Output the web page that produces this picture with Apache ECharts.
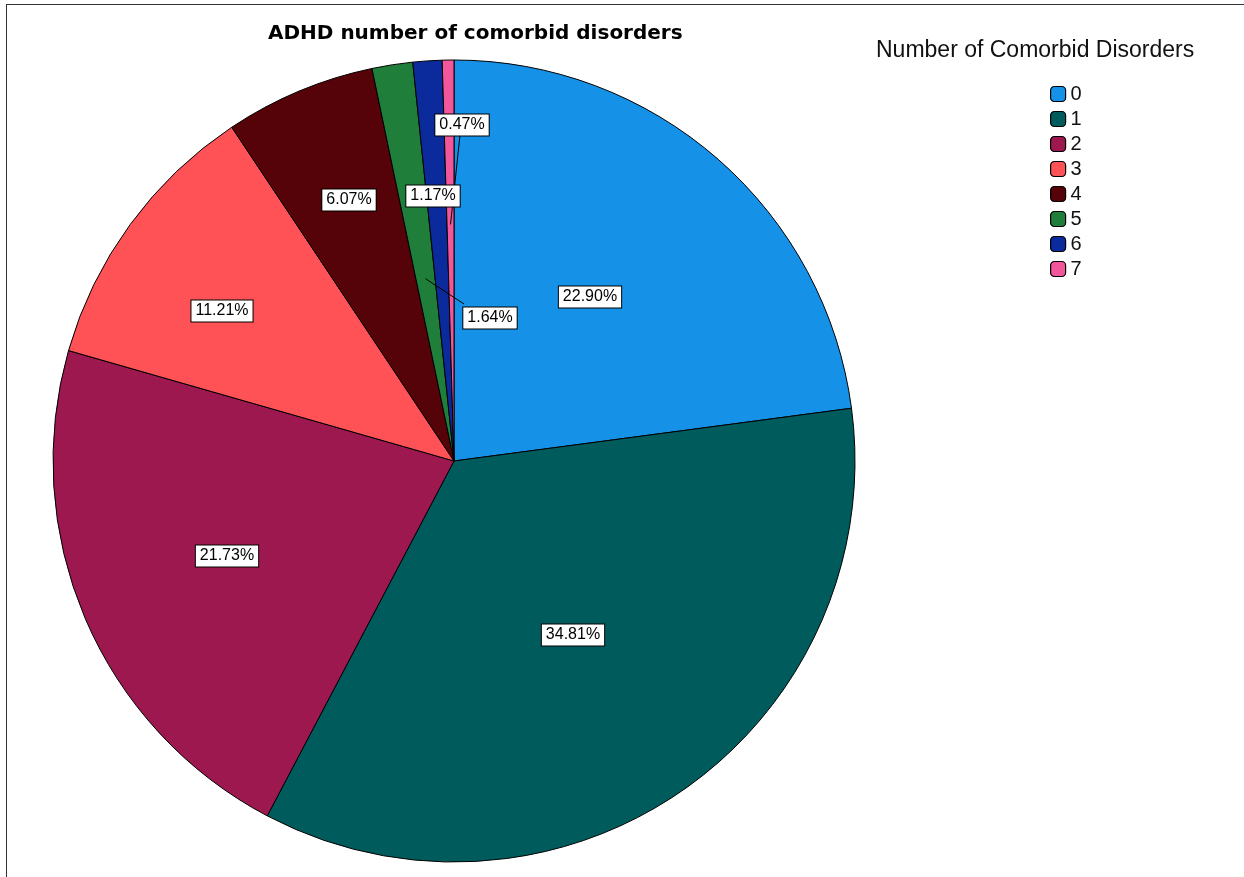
<!DOCTYPE html>
<html>
<head>
<meta charset="utf-8">
<script src="https://cdn.jsdelivr.net/npm/echarts@6/dist/echarts.min.js"></script>
<style>
  html, body { margin: 0; padding: 0; background: #fff; }
  .frame {
    position: absolute; left: 6px; top: 4px; width: 1238px; height: 873px;
    border-top: 1.5px solid #333; border-left: 1.5px solid #333;
  }
  #chart { position: absolute; left: 0; top: 0; width: 1244px; height: 877px; }
</style>
</head>
<body>
<div class="frame"></div>
<div id="chart"></div>
<script>
// 数据
const categories = ['0', '1', '2', '3', '4', '5', '6', '7']
const percents = [22.90, 34.81, 21.73, 11.21, 6.07, 1.64, 1.17, 0.47]
const colors = ['#1591e8', '#005c5c', '#9e1850', '#ff5257', '#560209', '#1e7e3a', '#0b2b9c', '#f2579b']

// 标签位置 (label centres)
const labelPos = [
  [590, 297], [573, 635], [227, 556], [222, 311],
  [349, 200], [490, 318], [433, 196], [462, 125]
]
// 引导线: [radius fraction of anchor in slice, label-end offset from label centre]
const leader = { 5: [0.46, [-26, -14]], 7: [0.59, [-2, 10]] }

const center = [454, 461]
const radius = 401
const font = '"Liberation Sans", Arial, sans-serif'

// 扇区中间角度 (clockwise from top)
const midAngle = i => {
  const before = percents.slice(0, i).reduce((a, b) => a + b, 0)
  return (before + percents[i] / 2) / 100 * 2 * Math.PI
}

const leaderLines = Object.keys(leader).map(k => {
  const i = +k
  const a = midAngle(i)
  const d = leader[i][0] * radius
  return {
    type: 'polyline',
    z: 2,
    z2: 3,
    silent: true,
    shape: {
      points: [
        [labelPos[i][0] + leader[i][1][0], labelPos[i][1] + leader[i][1][1]],
        [center[0] + d * Math.sin(a), center[1] - d * Math.cos(a)]
      ]
    },
    style: { stroke: '#000', lineWidth: 1, fill: null }
  }
})

const chart = echarts.init(document.getElementById('chart'))
chart.setOption({
  animation: false,
  title: [{
    text: 'ADHD number of comorbid disorders',
    left: 263,
    top: 19,
    textStyle: { fontFamily: '"DejaVu Sans", sans-serif', fontSize: 20, fontWeight: 'bold', color: '#000' }
  }, {
    text: 'Number of Comorbid Disorders',
    left: 871,
    top: 34,
    textStyle: { fontFamily: font, fontSize: 23, fontWeight: 'normal', color: '#111' }
  }],
  legend: {
    orient: 'vertical',
    left: 1045,
    top: 79,
    itemWidth: 15,
    itemHeight: 15,
    itemGap: 5,
    icon: 'roundRect',
    itemStyle: { borderColor: '#000', borderWidth: 1.2 },
    textStyle: { fontFamily: font, fontSize: 20, color: '#111' },
    data: categories
  },
  graphic: leaderLines,
  series: [{
    type: 'pie',
    center: center,
    radius: radius,
    startAngle: 90,
    clockwise: true,
    avoidLabelOverlap: false,
    itemStyle: { borderColor: '#000', borderWidth: 1 },
    emphasis: { disabled: true },
    label: {
      position: 'inside',
      fontFamily: font,
      fontSize: 16,
      color: '#000',
      backgroundColor: '#fff',
      borderColor: '#000',
      borderWidth: 1,
      padding: [3, 4, 2, 4],
      formatter: p => p.value.toFixed(2) + '%'
    },
    labelLine: { show: false },
    labelLayout: p => ({
      x: labelPos[p.dataIndex][0],
      y: labelPos[p.dataIndex][1],
      align: 'center',
      verticalAlign: 'middle'
    }),
    data: categories.map((c, i) => ({
      name: c,
      value: percents[i],
      itemStyle: { color: colors[i] }
    }))
  }]
})
</script>
</body>
</html>
